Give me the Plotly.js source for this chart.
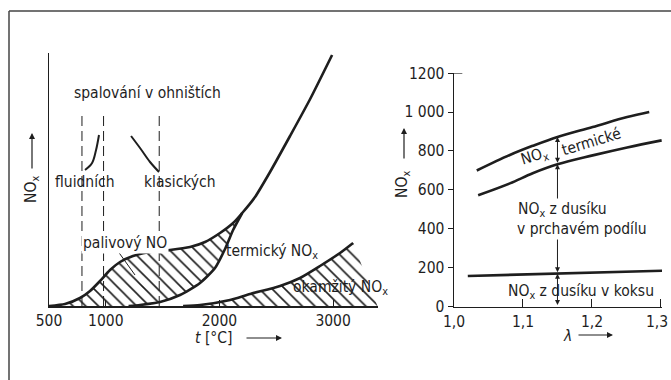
<!DOCTYPE html>
<html><head><meta charset="utf-8">
<script src="https://cdn.plot.ly/plotly-3.0.1.min.js"></script>
<style>html,body{margin:0;padding:0;background:#fff}#c{width:671px;height:380px}</style>
</head><body><div id="c"></div>
<script>
// ---- Left chart: NOx vs temperature (arbitrary units) ----
const totalT   = [500, 641, 773, 861, 949, 1037, 1125, 1239, 1389, 1565, 1741, 1873, 2005, 2120, 2200, 2313, 2445, 2621, 2798, 2991];
const totalNOx = [0,   2,   8,   15,  25,  36,   44,   50,   54,   56,   59,   64,   73,   83,   93,   109,  134,  170,  207,  251];
const thermT   = [1200, 1301, 1477, 1653, 1829, 1961, 2049, 2120, 2200];
const thermNOx = [0,    1,    4,    11,   23,   38,   57,   76,   93];
const promptT   = [1680, 1829, 2093, 2269, 2533, 2709, 2885, 3061, 3176];
const promptNOx = [0,    1,    6,    12,   20,   28,   40,   53,   63];
const promptEndT = 3390;
const dashT = [790, 980, 1470];
const dashTop = 191;
const fluidT = [817, 879, 914, 940];
const fluidNOx = [136, 143, 156, 171];
const klasT = [1222, 1301, 1389, 1468];
const klasNOx = [170, 158, 144, 134];
const leftTicks = [500, 1000, 2000, 3000];
const leftTickText = ['500', '1000', '2000', '3000'];

// ---- Right chart: NOx vs lambda ----
const lamUpper = [1.033, 1.081, 1.114, 1.15, 1.201, 1.251, 1.283];
const noxUpper = [699, 779, 826, 872, 923, 974, 1000];
const lamLower = [1.035, 1.081, 1.114, 1.15, 1.201, 1.251, 1.301];
const noxLower = [572, 633, 685, 731, 777, 818, 854];
const lamCoke = [1.02, 1.15, 1.304];
const noxCoke = [157, 169, 184];
const lamArrow = 1.15;
const rightYTicks = [0, 200, 400, 600, 800, 1000, 1200];
const rightYText = ['0', '200', '400', '600', '800', '1 000', '1200'];
const rightXTicks = [1.0, 1.1, 1.2, 1.3];
const rightXText = ['1,0', '1,1', '1,2', '1,3'];

const INK = '#1e1e1e';
const FONT = {family: 'DejaVu Sans Condensed, DejaVu Sans, sans-serif', size: 15.5, color: INK};
const W = 671, H = 380;
const px = v => v / W, py = v => (H - v) / H;

// fuel NO hatched polygon: total curve up to merge, then thermal curve back, then baseline
const mergeT = thermT[thermT.length - 1];
const fuelX = [], fuelY = [];
totalT.forEach((t, i) => { if (t <= mergeT) { fuelX.push(t); fuelY.push(totalNOx[i]); } });
for (let i = thermT.length - 1; i >= 0; i--) { fuelX.push(thermT[i]); fuelY.push(thermNOx[i]); }
fuelX.push(totalT[0]); fuelY.push(0);

const promptX = promptT.concat([promptEndT, promptT[0]]);
const promptY = promptNOx.concat([0, 0]);

const hatch = {shape: '\\', size: 9, solidity: 0.18, fgcolor: INK, bgcolor: 'rgba(0,0,0,0)'};
const traces = [
  {x: fuelX, y: fuelY, fill: 'toself', fillcolor: 'rgba(0,0,0,0)', fillpattern: hatch, mode: 'none', xaxis: 'x', yaxis: 'y'},
  {x: promptX, y: promptY, fill: 'toself', fillcolor: 'rgba(0,0,0,0)', fillpattern: hatch, mode: 'none', xaxis: 'x', yaxis: 'y'},
  {x: totalT, y: totalNOx, mode: 'lines', line: {color: INK, width: 2.6, shape: 'spline', smoothing: 0.6}, xaxis: 'x', yaxis: 'y'},
  {x: thermT, y: thermNOx, mode: 'lines', line: {color: INK, width: 2.6, shape: 'spline', smoothing: 0.6}, xaxis: 'x', yaxis: 'y'},
  {x: promptT, y: promptNOx, mode: 'lines', line: {color: INK, width: 2.6, shape: 'spline', smoothing: 0.6}, xaxis: 'x', yaxis: 'y'},
  {x: fluidT, y: fluidNOx, mode: 'lines', line: {color: INK, width: 2, shape: 'spline'}, xaxis: 'x', yaxis: 'y'},
  {x: klasT, y: klasNOx, mode: 'lines', line: {color: INK, width: 2, shape: 'spline'}, xaxis: 'x', yaxis: 'y'},
];
dashT.forEach(t => traces.push({x: [t, t], y: [0, dashTop], mode: 'lines', line: {color: INK, width: 1, dash: '10px,5px'}, xaxis: 'x', yaxis: 'y'}));
traces.push(
  {x: lamUpper, y: noxUpper, mode: 'lines', line: {color: INK, width: 2.6, shape: 'spline'}, xaxis: 'x2', yaxis: 'y2'},
  {x: lamLower, y: noxLower, mode: 'lines', line: {color: INK, width: 2.6, shape: 'spline'}, xaxis: 'x2', yaxis: 'y2'},
  {x: lamCoke, y: noxCoke, mode: 'lines', line: {color: INK, width: 2.6}, xaxis: 'x2', yaxis: 'y2'}
);

const iU = lamUpper.indexOf(lamArrow), iL = lamLower.indexOf(lamArrow), iC = lamCoke.indexOf(lamArrow);
const segs = [[0, noxCoke[iC]], [noxCoke[iC], noxLower[iL]], [noxLower[iL], noxUpper[iU]]];
const ann = [];
segs.forEach(s => ann.push({x: lamArrow, y: s[1], ax: lamArrow, ay: s[0], xref: 'x2', yref: 'y2', axref: 'x2', ayref: 'y2',
  text: '', showarrow: true, arrowside: 'end+start', arrowhead: 2, startarrowhead: 2, arrowsize: 1, startarrowsize: 1, arrowwidth: 1, arrowcolor: INK, standoff: 0, startstandoff: 0}));

function T(text, x, y, extra) {
  ann.push(Object.assign({text: text, x: px(x), y: py(y), xref: 'paper', yref: 'paper', showarrow: false, xanchor: 'center', yanchor: 'middle', font: FONT}, extra || {}));
}
function A(x, y, dx, dy) {
  ann.push({x: px(x), y: py(y), xref: 'paper', yref: 'paper', ax: dx, ay: dy, text: '', showarrow: true, arrowhead: 2, arrowsize: 1, arrowwidth: 1.2, arrowcolor: INK, standoff: 0});
}
// leader line for "palivový NO"
ann.push({x: 1257, y: 31, ax: 1099, ay: 56, xref: 'x', yref: 'y', axref: 'x', ayref: 'y', text: '', showarrow: true, arrowhead: 0, arrowwidth: 1, arrowcolor: INK, standoff: 0});

T('spalování v ohništích', 147, 93);
T('fluidních', 85, 182);
T('klasických', 180, 182);
T('palivový NO', 125, 243, {bgcolor: 'white'});
T('termický NO<sub>x</sub>', 272, 252);
T('okamžitý NO<sub>x</sub>', 340, 288);
T('NO<sub>x</sub>', 32, 190, {textangle: -90});
A(32, 133, 0, 37);
T('<i>t</i> [°C]', 214, 338);
A(282, 338, -37, 0);

T('NO<sub>x</sub>', 403, 185, {textangle: -90});
A(404, 128, 0, 32);
T('<i>λ</i>', 567, 336);
A(613, 335, -36, 0);
T('NO<sub>x</sub>', 534, 157, {textangle: -17});
T('termické', 591, 142, {textangle: -17});
T('NO<sub>x</sub> z dusíku', 562, 210, {bgcolor: 'white'});
T('v prchavém podílu', 582, 229, {bgcolor: 'white'});
T('NO<sub>x</sub> z dusíku v koksu', 581, 292);

// last lambda tick label drawn as an annotation so it stays inside the page
const lastX = rightXTicks.length - 1;
const xTickShown = rightXText.map((s, i) => i === lastX ? '' : s);
ann.push({text: rightXText[lastX], x: rightXTicks[lastX], xref: 'x2', y: py(322), yref: 'paper', showarrow: false,
  xanchor: 'right', yanchor: 'middle', xshift: 9, font: FONT});

const axBase = {showgrid: false, zeroline: false, showline: true, linecolor: INK, linewidth: 1.5, tickfont: FONT, fixedrange: true};
const layout = {
  width: W, height: H, margin: {l: 0, r: 0, t: 0, b: 0},
  paper_bgcolor: 'white', plot_bgcolor: 'rgba(0,0,0,0)', showlegend: false, hovermode: false,
  font: FONT,
  xaxis: Object.assign({}, axBase, {domain: [49 / W, 378 / W], range: [500, 3395], tickvals: leftTicks, ticktext: leftTickText,
    ticks: 'inside', ticklen: 6, tickwidth: 1, tickcolor: INK, anchor: 'y'}),
  yaxis: Object.assign({}, axBase, {domain: [74 / H, 327 / H], range: [0, 253], showticklabels: false, ticks: '', anchor: 'x'}),
  xaxis2: Object.assign({}, axBase, {domain: [454 / W, 662 / W], range: [1.0, 1.3015], tickvals: rightXTicks, ticktext: xTickShown,
    ticks: 'inside', ticklen: 8, tickwidth: 1, tickcolor: INK, anchor: 'y2'}),
  yaxis2: Object.assign({}, axBase, {domain: [73.5 / H, 307 / H], range: [0, 1200.5], tickvals: rightYTicks, ticktext: rightYText,
    ticks: 'outside', ticklen: 5, tickwidth: 1, tickcolor: INK, anchor: 'x2'}),
  annotations: ann,
  shapes: [
    {type: 'line', xref: 'paper', yref: 'paper', x0: px(9), x1: 1, y0: py(11), y1: py(11), line: {color: '#444', width: 1.5}},
    {type: 'line', xref: 'paper', yref: 'paper', x0: px(9), x1: px(9), y0: py(11), y1: 0, line: {color: '#444', width: 1.5}},
    {type: 'line', xref: 'x2 domain', yref: 'y2', x0: 0, x1: 0.04, y0: 1200, y1: 1200, line: {color: INK, width: 1}}
  ]
};
Plotly.newPlot('c', traces, layout, {staticPlot: true, displayModeBar: false});
</script></body></html>
